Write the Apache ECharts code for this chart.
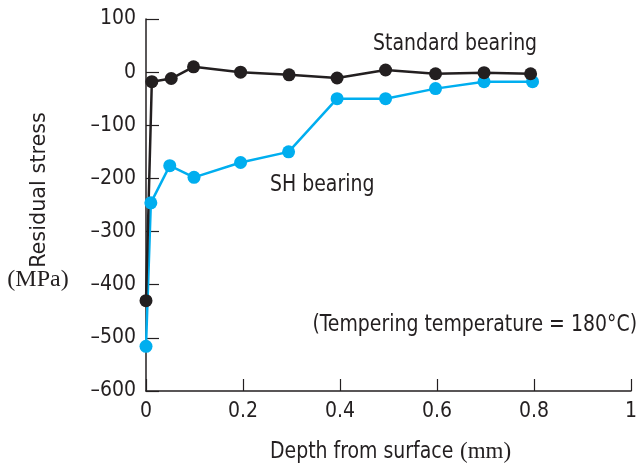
<!DOCTYPE html>
<html>
<head>
<meta charset="utf-8">
<script src="https://cdn.jsdelivr.net/npm/echarts@6/dist/echarts.min.js"></script>
<style>html,body{margin:0;padding:0;background:#fff}#c{width:640px;height:467px}</style>
</head>
<body>
<div id="c"></div>
<script>
// Data
const stdDepth = [0, 0.012, 0.052, 0.098, 0.195, 0.295, 0.394, 0.494, 0.597, 0.697, 0.793];
const stdStress = [-430, -18, -12, 10, 0, -5, -11, 4, -3, -1, -3];
const shDepth = [0, 0.01, 0.049, 0.099, 0.195, 0.294, 0.394, 0.494, 0.597, 0.697, 0.797];
const shStress = [-516, -246, -176, -198, -170, -150, -50, -50, -31, -18, -18];
const stdLabel = 'Standard bearing';
const shLabel = 'SH bearing';
const noteLabel = '(Tempering temperature = 180°C)';
const yName = 'Residual stress';
const yUnit = '(MPa)';
const xName = 'Depth from surface';
const xUnit = '(mm)';

const FONT = '"DejaVu Sans Condensed", "Liberation Sans", sans-serif';
const SERIF = '"Liberation Serif", "DejaVu Serif", serif';
const INK = '#231f20';
const BLUE = '#00aeef';
const FS = 21;

const chart = echarts.init(document.getElementById('c'));
const zip = (xs, ys) => xs.map((x, i) => [x, ys[i]]);

chart.setOption({
  animation: false,
  backgroundColor: '#fff',
  grid: { left: 146, right: 3, top: 19, bottom: 76, containLabel: false },
  xAxis: {
    type: 'value', min: 0, max: 1, interval: 0.2,
    axisLine: { show: true, onZero: false, lineStyle: { color: INK, width: 1.5 } },
    axisTick: { show: true, inside: true, length: 12, lineStyle: { color: INK, width: 1.2 } },
    axisLabel: { color: INK, fontFamily: FONT, fontSize: FS, margin: 10 },
    splitLine: { show: false }
  },
  yAxis: {
    type: 'value', min: -600, max: 100, interval: 100,
    axisLine: { show: true, onZero: false, lineStyle: { color: INK, width: 1.5 } },
    axisTick: { show: true, inside: true, length: 13, lineStyle: { color: INK, width: 1.2 } },
    axisLabel: { color: INK, fontFamily: FONT, fontSize: FS, margin: 10,
      formatter: v => String(v).replace('-', '\u2013') },
    splitLine: { show: false }
  },
  series: [
    { type: 'line', data: zip(shDepth, shStress), symbol: 'circle', symbolSize: 13,
      lineStyle: { color: BLUE, width: 2.5 }, itemStyle: { color: BLUE } },
    { type: 'line', data: zip(stdDepth, stdStress), symbol: 'circle', symbolSize: 13,
      lineStyle: { color: INK, width: 2.5 }, itemStyle: { color: INK } }
  ],
  graphic: [
    { type: 'text', x: 373, y: 44, scaleY: 1.1, style: { text: stdLabel, fill: INK, font: FS + 'px ' + FONT, textVerticalAlign: 'middle' } },
    { type: 'text', x: 270, y: 185, scaleY: 1.1, style: { text: shLabel, fill: INK, font: FS + 'px ' + FONT, textVerticalAlign: 'middle' } },
    { type: 'text', x: 637, y: 325, scaleY: 1.1, style: { text: noteLabel, fill: INK, font: FS + 'px ' + FONT, textAlign: 'right', textVerticalAlign: 'middle' } },
    { type: 'text', x: 40, y: 190, rotation: Math.PI / 2, scaleX: 1.1, style: { text: yName, fill: INK, font: FS + 'px ' + FONT, textAlign: 'center', textVerticalAlign: 'middle' } },
    { type: 'text', x: 38, y: 280, style: { text: yUnit, fill: INK, font: '24px ' + SERIF, textAlign: 'center', textVerticalAlign: 'middle' } },
    { type: 'text', x: 270, y: 452, scaleY: 1.1, style: { text: xName, fill: INK, font: FS + 'px ' + FONT, textAlign: 'left', textVerticalAlign: 'middle' } },
    { type: 'text', x: 460, y: 452, style: { text: xUnit, fill: INK, font: '23px ' + SERIF, textAlign: 'left', textVerticalAlign: 'middle' } }
  ]
});
</script>
</body>
</html>
